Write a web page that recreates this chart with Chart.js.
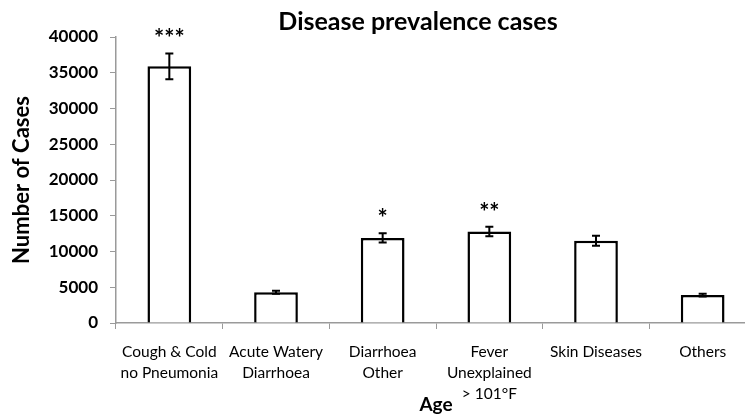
<!DOCTYPE html>
<html>
<head>
    <title>Disease prevalence cases</title>
    <script src="https://cdn.jsdelivr.net/npm/chart.js"></script>
    <style>
        html, body {
            margin: 0;
            padding: 0;
            background: #fff;
            overflow: hidden;
        }
        .wrap {
            width: 836px;
            height: 416px;
        }
    </style>
</head>
<body>
    <div class="wrap">
        <canvas id="prevalenceChart" width="836" height="416"></canvas>
    </div>

<script>
    // Data
    const categories = [
        ['Cough & Cold', 'no Pneumonia'],
        ['Acute Watery', 'Diarrhoea'],
        ['Diarrhoea', 'Other'],
        ['Fever', 'Unexplained', '> 101°F'],
        ['Skin Diseases'],
        ['Others']
    ];
    const cases = [35900, 4300, 11900, 12800, 11500, 3900];
    const errors = [1800, 200, 650, 650, 700, 200];
    const stars = ['***', '', '*', '**', '', ''];
    const yTicks = [0, 5000, 10000, 15000, 20000, 25000, 30000, 35000, 40000];
    const chartTitle = 'Disease prevalence cases';

    const axisGrey = '#9a9a9a';

    // error bars + significance marks + title (centred on the full canvas)
    const errorBarPlugin = {
        id: 'errorBars',
        afterDatasetsDraw(chart) {
            const ctx = chart.ctx;
            const meta = chart.getDatasetMeta(0);
            const y = chart.scales.y;
            ctx.save();
            ctx.strokeStyle = '#000';
            ctx.lineWidth = 2;
            meta.data.forEach((bar, i) => {
                const x = bar.x;
                const hi = y.getPixelForValue(cases[i] + errors[i]);
                const lo = y.getPixelForValue(cases[i] - errors[i]);
                ctx.beginPath();
                ctx.moveTo(x, hi); ctx.lineTo(x, lo);
                ctx.moveTo(x - 4, hi); ctx.lineTo(x + 4, hi);
                ctx.moveTo(x - 4, lo); ctx.lineTo(x + 4, lo);
                ctx.stroke();
                if (stars[i]) {
                    ctx.fillStyle = '#000';
                    ctx.font = 'bold 24px Lato';
                    ctx.textAlign = 'center';
                    ctx.textBaseline = 'middle';
                    ctx.fillText(stars[i], x, hi - 14);
                }
            });

            ctx.fillStyle = '#000';
            ctx.font = 'bold 25px Lato';
            ctx.textAlign = 'center';
            ctx.textBaseline = 'middle';
            ctx.fillText(chartTitle, chart.width / 2, 22);
            ctx.restore();
        }
    };

    const ctx = document.getElementById('prevalenceChart').getContext('2d');

    new Chart(ctx, {
        type: 'bar',
        data: {
            labels: categories,
            datasets: [{
                label: 'Number of Cases',
                data: cases,
                backgroundColor: '#fff',
                borderColor: '#000',
                borderWidth: 2.5,
                borderSkipped: 'bottom',
                categoryPercentage: 1,
                barPercentage: 0.41
            }]
        },
        plugins: [errorBarPlugin],
        options: {
            responsive: false,
            animation: false,
            layout: {
                padding: { left: 0, right: 80, top: 37, bottom: 0 }
            },
            plugins: {
                legend: { display: false },
                tooltip: { enabled: false },
                title: { display: false }
            },
            scales: {
                x: {
                    grid: {
                        display: true,
                        drawOnChartArea: false,
                        offset: true,
                        tickLength: 6,
                        color: axisGrey
                    },
                    border: { color: axisGrey, width: 1.5 },
                    ticks: {
                        color: '#000',
                        padding: 12,
                        autoSkip: false,
                        maxRotation: 0,
                        font: { family: 'Lato', size: 15.5, lineHeight: 1.38 }
                    },
                    title: {
                        display: true,
                        text: 'Age',
                        color: '#000',
                        font: { family: 'Lato', size: 19, weight: 'bold' },
                        padding: { top: 0, bottom: 0 }
                    },
                    afterFit(scale) { scale.height = 93; }
                },
                y: {
                    min: 0,
                    max: 40000,
                    afterBuildTicks(scale) {
                        scale.ticks = yTicks.map(v => ({ value: v }));
                    },
                    grid: {
                        display: true,
                        drawOnChartArea: false,
                        tickLength: 6,
                        color: axisGrey
                    },
                    border: { color: axisGrey, width: 1.5 },
                    ticks: {
                        color: '#000',
                        padding: 12,
                        callback: v => String(v),
                        font: { family: 'Lato', size: 17, weight: 'bold' }
                    },
                    title: {
                        display: true,
                        text: 'Number of Cases',
                        color: '#000',
                        font: { family: 'Lato', size: 22, weight: 'bold' },
                        padding: { top: 9, bottom: 0 }
                    },
                    afterFit(scale) { scale.width = 116; }
                }
            }
        }
    });
</script>
</body>
</html>
